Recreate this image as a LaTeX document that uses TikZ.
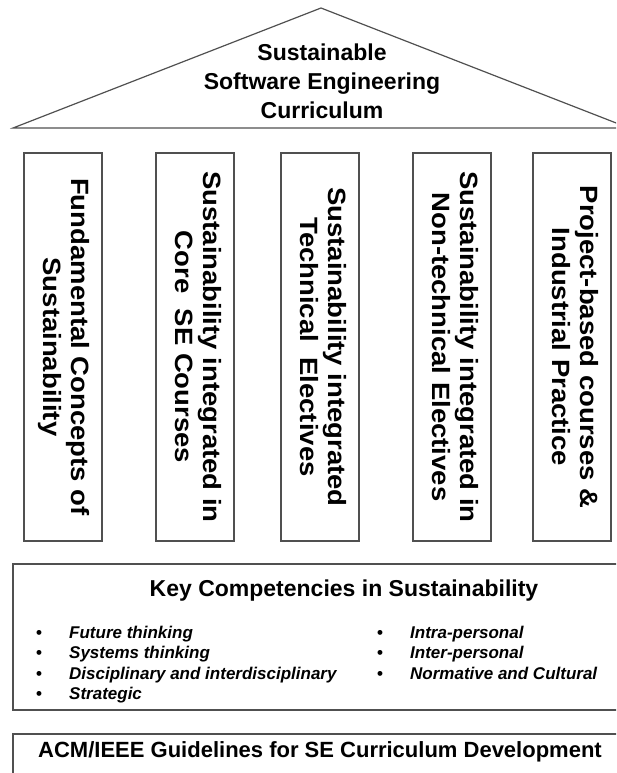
\documentclass[tikz,border=0pt]{standalone}
\usepackage{fontspec}
\setmainfont{Liberation Sans}
\definecolor{linegray}{RGB}{80,80,80}
\begin{document}
\begin{tikzpicture}[x=1pt,y=-1pt]
\tikzset{
  frame/.style={draw=linegray, line width=1.2pt},
  pillar/.style={frame, rotate=-90, minimum width=388pt, minimum height=78pt,
    inner sep=0pt, font=\fontsize{25}{28}\selectfont\bfseries},
  titletext/.style={inner sep=0pt, font=\fontsize{23}{28}\selectfont\bfseries},
  acmtext/.style={inner sep=0pt, font=\fontsize{22}{26}\selectfont\bfseries},
  itemtext/.style={inner sep=0pt, anchor=base west, font=\fontsize{17}{20}\selectfont\bfseries\itshape},
}
\newcommand{\pillartext}[2]{\scalebox{1.1}[1]{\begin{tabular}{@{}c@{}}#1\\#2\end{tabular}}}
\newcommand{\bulletitem}[1]{\makebox[33pt][l]{\upshape\textbullet}#1}
\useasboundingbox (0,0) rectangle (616,773);
\clip (0,0) rectangle (616,773);

% roof
\coordinate (roofL) at (13,128);
\coordinate (apex) at (321,8);
\coordinate (roofR) at (629,128);
\draw[frame] (roofL) -- (apex) -- (roofR) -- cycle;
\node[titletext, anchor=base] (t1) at (322,61) {Sustainable};
\node[titletext, anchor=base] (t2) at (322,90) {Software Engineering};
\node[titletext, anchor=base] (t3) at (322,118.5) {Curriculum};

% pillars
\node[pillar] (p1) at (63,347) {\pillartext{Fundamental Concepts of}{Sustainability}};
\node[pillar] (p2) at (195,347) {\pillartext{Sustainability integrated in}{Core\ \ SE Courses}};
\node[pillar] (p3) at (320,347) {\pillartext{Sustainability integrated}{Technical\ \ Electives}};
\node[pillar] (p4) at (452,347) {\pillartext{Sustainability integrated in}{Non-technical Electives}};
\node[pillar] (p5) at (572,347) {\pillartext{Project-based courses \&}{Industrial Practice}};

% key competencies
\draw[frame] (13,564) rectangle (675,710);
\node[titletext, anchor=base] (kt) at (344,596) {Key Competencies in Sustainability};
\node[itemtext] (i1) at (36,638) {\bulletitem{Future thinking}};
\node[itemtext] (i2) at (36,658.5) {\bulletitem{Systems thinking}};
\node[itemtext] (i3) at (36,679) {\bulletitem{Disciplinary and interdisciplinary}};
\node[itemtext] (i4) at (36,699.5) {\bulletitem{Strategic}};
\node[itemtext] (i5) at (377,638) {\bulletitem{Intra-personal}};
\node[itemtext] (i6) at (377,658.5) {\bulletitem{Inter-personal}};
\node[itemtext] (i7) at (377,679) {\bulletitem{Normative and Cultural}};

% ACM box
\draw[frame] (13,734) rectangle (675,800);
\node[acmtext, anchor=base] (acm) at (320,757) {ACM/IEEE Guidelines for SE Curriculum Development};
\end{tikzpicture}
\end{document}
